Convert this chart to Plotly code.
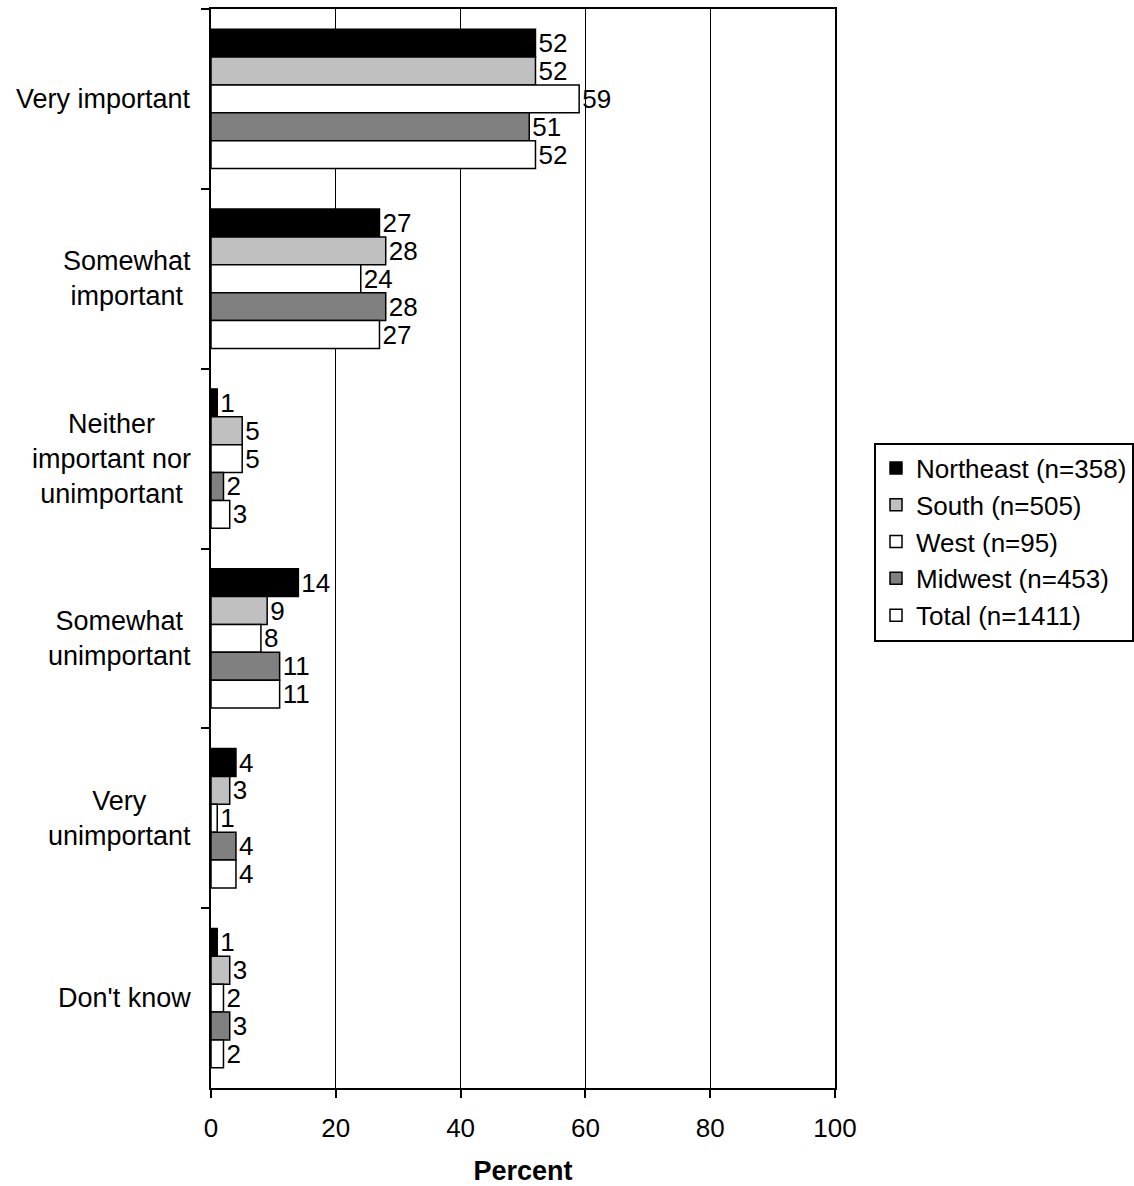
import plotly.graph_objects as go

categories = [
    "Very important",
    "Somewhat<br>important",
    "Neither<br>important nor<br>unimportant",
    "Somewhat<br>unimportant",
    "Very<br>unimportant",
    "Don't know",
]
cat_keys = ["c0", "c1", "c2", "c3", "c4", "c5"]

series_names = [
    "Northeast (n=358)",
    "South (n=505)",
    "West (n=95)",
    "Midwest (n=453)",
    "Total (n=1411)",
]
northeast = [52, 27, 1, 14, 4, 1]
south = [52, 28, 5, 9, 3, 3]
west = [59, 24, 5, 8, 1, 2]
midwest = [51, 28, 2, 11, 4, 3]
total = [52, 27, 3, 11, 4, 2]
series_values = [northeast, south, west, midwest, total]
series_colors = ["#000000", "#C0C0C0", "#FFFFFF", "#808080", "#FFFFFF"]

x_ticks = [0, 20, 40, 60, 80, 100]

FONT = "Arial, Liberation Sans, sans-serif"

fig = go.Figure()
for name, vals, col in zip(series_names, series_values, series_colors):
    fig.add_trace(go.Bar(
        name=name,
        y=cat_keys,
        x=vals,
        orientation="h",
        marker=dict(color=col, line=dict(color="black", width=1.5)),
        text=[str(v) for v in vals],
        textposition="outside",
        textfont=dict(family=FONT, size=26, color="black"),
        constraintext="none",
        cliponaxis=False,
    ))

# category labels: lines centered, block right-aligned next to the axis
for key, label in zip(cat_keys, categories):
    fig.add_annotation(
        x=0, xref="paper", y=key, yref="y",
        text=label, showarrow=False,
        xanchor="right", yanchor="middle", align="center",
        xshift=-18,
        font=dict(family=FONT, size=27, color="black"),
    )

fig.update_layout(
    width=1134, height=1186,
    margin=dict(l=211, r=299, t=9, b=98, autoexpand=False),
    paper_bgcolor="white", plot_bgcolor="white",
    barmode="group", bargap=0.225, bargroupgap=0,
    font=dict(family=FONT, size=25, color="black"),
    showlegend=True,
    legend=dict(
        x=1.0625, xanchor="left", y=0.506, yanchor="middle",
        bordercolor="black", borderwidth=2,
        font=dict(family=FONT, size=26, color="black"),
        traceorder="normal",
        itemwidth=30,
    ),
    xaxis=dict(
        range=[0, 100], tickvals=x_ticks, ticktext=[str(t) for t in x_ticks],
        showgrid=True, gridcolor="black", gridwidth=1,
        showline=True, linecolor="black", linewidth=2, mirror=True,
        ticks="outside", ticklen=8, tickwidth=2, tickcolor="black",
        tickfont=dict(family=FONT, size=26, color="black"),
        ticklabelstandoff=8,
        zeroline=False,
        title=dict(text="<b>Percent</b>", font=dict(family=FONT, size=27, color="black"), standoff=24),
    ),
    yaxis=dict(
        categoryorder="array", categoryarray=cat_keys,
        autorange="reversed",
        showticklabels=False,
        showgrid=False,
        showline=True, linecolor="black", linewidth=2, mirror=True,
        ticks="outside", ticklen=8, tickwidth=1.5, tickcolor="black",
        tickson="boundaries",
    ),
)

fig.write_html("out.html")
